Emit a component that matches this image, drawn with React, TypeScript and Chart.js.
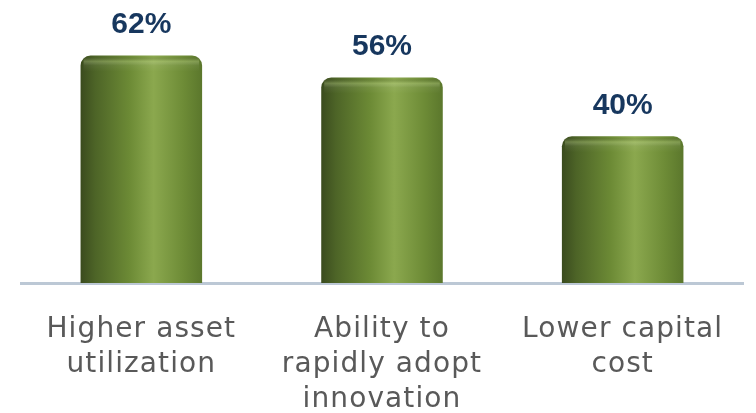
import React, { useEffect, useRef } from "react";
import { Chart, registerables } from "chart.js";

Chart.register(...registerables);

const categories: string[][] = [
  ["Higher asset", "utilization"],
  ["Ability to", "rapidly adopt", "innovation"],
  ["Lower capital", "cost"],
];
const values: number[] = [62, 56, 40];
const valueLabels: string[] = ["62%", "56%", "40%"];

const CAT_PCT = 1;
const BAR_PCT = 0.505;

const valueLabelPlugin = {
  id: "valueLabels",
  beforeDraw(chart: any) {
    (chart.ctx as any).letterSpacing = "1.1px";
  },
  afterDatasetsDraw(chart: any) {
    const ctx = chart.ctx;
    const meta = chart.getDatasetMeta(0);
    ctx.save();
    (ctx as any).letterSpacing = "0px";
    // subtle top rim highlight
    meta.data.forEach((el: any) => {
      const left = el.x - el.width / 2;
      const w = el.width;
      const g = ctx.createLinearGradient(0, el.y, 0, el.y + 16);
      g.addColorStop(0, "rgba(0,0,0,0.08)");
      g.addColorStop(0.35, "rgba(220,240,170,0.28)");
      g.addColorStop(0.6, "rgba(255,255,255,0.06)");
      g.addColorStop(1, "rgba(255,255,255,0)");
      ctx.fillStyle = g;
      ctx.beginPath();
      ctx.rect(left + 3, el.y + 2, w - 6, 14);
      ctx.fill();
    });
    ctx.fillStyle = "#17375E";
    ctx.font = "bold 30px 'Liberation Sans', Arial, sans-serif";
    ctx.textAlign = "center";
    ctx.textBaseline = "middle";
    meta.data.forEach((el: any, i: number) => {
      ctx.fillText(valueLabels[i], el.x, el.y - 31);
    });
    ctx.restore();
  },
};

export default function App() {
  const ref = useRef<HTMLCanvasElement | null>(null);
  useEffect(() => {
    document.body.style.margin = "0";
    const canvas = ref.current!;
    const chart = new Chart(canvas, {
      type: "bar",
      data: {
        labels: categories,
        datasets: [
          {
            data: values,
            categoryPercentage: CAT_PCT,
            barPercentage: BAR_PCT,
            borderRadius: { topLeft: 10, topRight: 10, bottomLeft: 0, bottomRight: 0 },
            borderSkipped: false,
            backgroundColor: (c: any) => {
              const xs = c.chart.scales?.x;
              if (!xs || c.dataIndex === undefined) return "#6f8d37";
              const cx = xs.getPixelForValue(c.dataIndex);
              const half = ((xs.width / categories.length) * CAT_PCT * BAR_PCT) / 2;
              if (!isFinite(cx) || !isFinite(half) || half <= 0) return "#6f8d37";
              const g = c.chart.ctx.createLinearGradient(cx - half, 0, cx + half, 0);
              g.addColorStop(0, "#3a4b1e");
              g.addColorStop(0.12, "#4d6427");
              g.addColorStop(0.4, "#6c8a35");
              g.addColorStop(0.6, "#8ba84e");
              g.addColorStop(0.85, "#6d8b36");
              g.addColorStop(1, "#5b772c");
              return g;
            },
          },
        ],
      },
      options: {
        responsive: false,
        animation: false,
        events: [],
        layout: { padding: { top: 27, left: 21, right: 13, bottom: 0 } },
        plugins: { legend: { display: false }, tooltip: { enabled: false } },
        scales: {
          y: { display: false, min: 0, max: 69.8 },
          x: {
            grid: { display: false },
            border: { display: true, color: "#BCC8D5", width: 3 },
            afterFit: (s: any) => {
              s.height = 130;
            },
            ticks: {
              color: "#595959",
              padding: 21,
              maxRotation: 0,
              autoSkip: false,
              font: { family: "'DejaVu Sans', Verdana, sans-serif", size: 28, lineHeight: 1.25 },
            },
          },
        },
      },
      plugins: [valueLabelPlugin],
    });
    return () => chart.destroy();
  }, []);
  return (
    <div style={{ position: "fixed", left: 0, top: 0, width: 756, height: 413, background: "#fff" }}>
      <canvas ref={ref} width={756} height={413} style={{ width: 756, height: 413 }} />
    </div>
  );
}
